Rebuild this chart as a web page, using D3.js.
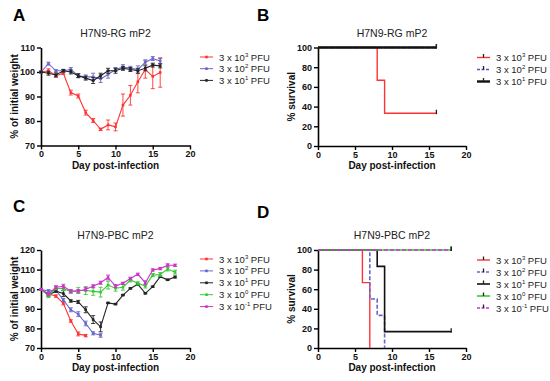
<!DOCTYPE html>
<html>
<head>
<meta charset="utf-8">
<script src="https://cdn.jsdelivr.net/npm/d3@7"></script>
<style>
  body { margin: 0; background: #fff; }
  text { font-family: "Liberation Sans", Arial, sans-serif; }
</style>
</head>
<body>
<div id="chart"></div>
<script>
// ---- data ----
let legendLabels = ['3', '2', '1', '0', '-1'];   // exponents of 3 x 10^n PFU
let seriesColors = ['#ff3333', '#6666cc', '#222222', '#33cc33', '#cc33cc'];

// Panel A: H7N9-RG mP2 weight (days 0-16)
let daysA = d3.range(0, 17);
let weightA_hi = [100, 100.5, 98.5, 99.5, 91.6, 90.2, 83.4, 80.2, 76.6, 78.4, 77.6, 86.5, 90.5, 96, 101, 98.2, 99.8];
let semA_hi = [0.3, 0.8, 0.6, 0.5, 1, 0.8, 1, 0.8, 0.5, 2, 1.6, 4.5, 4, 4.5, 3.5, 5, 6];
let weightA_mid = [100, 103.4, 100.5, 100.5, 101, 98.5, 98, 98, 97.2, 99, 101, 102, 101.5, 101, 104, 105.5, 104.5];
let semA_mid = [0.3, 0.6, 0.5, 0.6, 0.8, 0.8, 0.8, 1.5, 1.5, 1.5, 0.8, 1, 0.8, 1.5, 1, 0.8, 1];
let weightA_lo = [100, 99.5, 98.8, 100.5, 100, 98.5, 97.5, 96.5, 98.5, 100.5, 100.5, 101.5, 101, 100.5, 101.5, 102.8, 102.5];
let semA_lo = [0.3, 0.8, 0.8, 0.5, 0.8, 0.8, 0.8, 1.2, 1, 1, 1, 0.8, 0.8, 1, 1, 0.8, 0.8];

// Panel C: H7N9-PBC mP2 weight
let weightC_3 = [100, 97.5, 96.5, 92.8, 83.8, 77.2, 76.3];
let semC_3 = [0.3, 0.8, 0.6, 0.8, 0.6, 1, 0.6];
let weightC_2 = [100, 99, 99.5, 94.5, 89.5, 87.3, 82.5, 77.5, 76.5];
let semC_2 = [0.3, 0.8, 0.6, 0.8, 1, 1.2, 1.2, 0.8, 1];
let weightC_1 = [100, 97, 99, 97.8, 94, 93.5, 89.5, 84.5, 80.8, 93, 92.4, 97, 100.4, 102.5, 97.9, 101.3, 106.4, 104.8, 106.2];
let semC_1 = [0.3, 0.6, 0.6, 1.5, 0.6, 0.8, 1.5, 2, 2.5, 0.3, 0.3, 0.3, 0.3, 0.3, 0.3, 0.3, 0.3, 0.3, 0.5];
let weightC_0 = [100, 96.5, 100.5, 100.3, 98.7, 99.3, 99.3, 98.9, 98.5, 102.1, 100.5, 101, 104.7, 103, 101.6, 107.2, 107.5, 110.3, 108.7];
let semC_0 = [0.3, 0.8, 0.8, 1, 0.8, 1.5, 2, 2, 2.5, 2, 1.5, 1.5, 1, 0.8, 1, 0.8, 1, 1, 1];
let weightC_m1 = [100, 97.5, 101, 101.5, 99, 99, 100, 101.5, 103.3, 106, 101.6, 103, 105.5, 107.6, 103.3, 109.8, 110.5, 112.2, 112.2];
let semC_m1 = [0.3, 0.8, 0.8, 1, 0.8, 0.8, 0.8, 0.8, 0.8, 1.2, 0.8, 0.6, 0.6, 0.6, 1, 0.6, 0.6, 0.8, 0.6];

// survival step points [day, %]
let survB_3 = [[0, 100], [8, 100], [8, 66.7], [9, 66.7], [9, 33.3], [16, 33.3]];
let survB_2 = [[0, 100], [16, 100]];
let survB_1 = [[0, 100], [16, 100]];

let survD_3 = [[0, 100], [6, 100], [6, 66.7], [7, 66.7], [7, 0]];
let survD_2 = [[0, 100], [7, 100], [7, 50], [8, 50], [8, 33.3], [9, 33.3], [9, 0]];
let survD_1 = [[0, 100], [8, 100], [8, 83.3], [9, 83.3], [9, 16.7], [18, 16.7]];
let survD_0 = [[0, 100], [18, 100]];
let survD_m1 = [[0, 100], [18, 100]];

let xTicks = [0, 5, 10, 15, 20];

let svg = d3.select('#chart').append('svg')
    .attr('width', 550)
    .attr('height', 381);

// draws the frame (axes, title, labels) and returns scales
function drawFrame(p) {
    let g = svg.append('g');
    let x = d3.scaleLinear().domain([0, 20]).range([p.left, p.right]);
    let y = d3.scaleLinear().domain(p.yDomain).range([p.bottom, p.top]);

    g.append('g')
        .attr('transform', `translate(0,${p.bottom})`)
        .call(d3.axisBottom(x).tickValues(xTicks).tickSize(4).tickSizeOuter(0))
        .call(a => a.select('.domain').attr('stroke-width', 1.6))
        .call(a => a.selectAll('.tick line').attr('stroke-width', 1.4))
        .call(a => a.selectAll('text').attr('font-size', 9).attr('font-weight', 'bold').attr('dy', '0.55em').attr('fill', '#111'));

    g.append('g')
        .attr('transform', `translate(${p.left},0)`)
        .call(d3.axisLeft(y).tickValues(p.yTicks).tickSize(4).tickSizeOuter(0))
        .call(a => a.select('.domain').attr('stroke-width', 1.6))
        .call(a => a.selectAll('.tick line').attr('stroke-width', 1.4))
        .call(a => a.selectAll('text').attr('font-size', 9).attr('font-weight', 'bold').attr('dx', '0.1em').attr('fill', '#111'));

    g.append('text')
        .attr('x', (p.left + p.right) / 2)
        .attr('y', p.top - 11)
        .attr('text-anchor', 'middle')
        .attr('font-size', 10.5)
        .attr('fill', '#222')
        .text(p.title);

    g.append('text')
        .attr('x', (p.left + p.right) / 2)
        .attr('y', p.bottom + 23)
        .attr('text-anchor', 'middle')
        .attr('font-size', 10)
        .attr('font-weight', 'bold')
        .attr('fill', '#111')
        .text('Day post-infection');

    g.append('text')
        .attr('transform', `translate(${p.left - 23},${(p.top + p.bottom) / 2}) rotate(-90)`)
        .attr('text-anchor', 'middle')
        .attr('font-size', 10)
        .attr('font-weight', 'bold')
        .attr('fill', '#111')
        .text(p.yLabel);

    g.append('text')
        .attr('x', p.letterX)
        .attr('y', p.letterY)
        .attr('font-size', 17)
        .attr('font-weight', 'bold')
        .attr('fill', '#000')
        .text(p.letter);

    return {g, x, y};
}

function legendText(sel, exp) {
    sel.append('tspan').text('3 x 10');
    sel.append('tspan').attr('font-size', 6).attr('dy', -4).text(exp);
    sel.append('tspan').attr('dy', 4).text(' PFU');
}

function drawWeight(p, series) {
    let f = drawFrame(p);
    let line = d3.line().x(d => f.x(d[0])).y(d => f.y(d[1]));
    series.forEach((s, i) => {
        let pts = s.values.map((v, k) => [k, v, s.sem[k]]);
        let sg = f.g.append('g');
        sg.selectAll('line.err')
            .data(pts)
            .enter()
            .append('line')
            .attr('x1', d => f.x(d[0])).attr('x2', d => f.x(d[0]))
            .attr('y1', d => f.y(d[1] - d[2])).attr('y2', d => f.y(d[1] + d[2]))
            .attr('stroke', s.color).attr('stroke-width', 0.9);
        pts.forEach(d => {
            [d[1] - d[2], d[1] + d[2]].forEach(v => {
                sg.append('line')
                    .attr('x1', f.x(d[0]) - 2).attr('x2', f.x(d[0]) + 2)
                    .attr('y1', f.y(v)).attr('y2', f.y(v))
                    .attr('stroke', s.color).attr('stroke-width', 0.9);
            });
        });
        sg.append('path')
            .datum(pts)
            .attr('d', line)
            .attr('fill', 'none')
            .attr('stroke', s.color)
            .attr('stroke-width', 1.1);
        sg.selectAll('rect')
            .data(pts)
            .enter()
            .append('rect')
            .attr('x', d => f.x(d[0]) - 1.3).attr('y', d => f.y(d[1]) - 1.3)
            .attr('width', 2.6).attr('height', 2.6)
            .attr('fill', s.color);

        // legend
        let ly = p.legendY + i * p.legendStep;
        f.g.append('line')
            .attr('x1', p.legendX).attr('x2', p.legendX + 13)
            .attr('y1', ly).attr('y2', ly)
            .attr('stroke', s.color).attr('stroke-width', 1);
        f.g.append('rect')
            .attr('x', p.legendX + 5.2).attr('y', ly - 1.3)
            .attr('width', 2.6).attr('height', 2.6).attr('fill', s.color);
        f.g.append('text')
            .attr('x', p.legendX + 19).attr('y', ly + 3.5)
            .attr('font-size', 9.5).attr('fill', '#222')
            .call(legendText, s.exp);
    });
}

function drawSurvival(p, series) {
    let f = drawFrame(p);
    let line = d3.line().x(d => f.x(d[0])).y(d => f.y(d[1]));
    series.forEach((s, i) => {
        let sg = f.g.append('g');
        sg.append('path')
            .datum(s.values)
            .attr('d', line)
            .attr('fill', 'none')
            .attr('stroke', s.color)
            .attr('stroke-width', s.width)
            .attr('stroke-dasharray', s.dash || null);
        let last = s.values[s.values.length - 1];
        if (last[1] > 0) {
            sg.append('line')
                .attr('x1', f.x(last[0])).attr('x2', f.x(last[0]))
                .attr('y1', f.y(last[1]) - 3.5).attr('y2', f.y(last[1]) + 1)
                .attr('stroke', '#222').attr('stroke-width', 1.3);
        }
        // legend
        let ly = p.legendY + i * p.legendStep;
        f.g.append('line')
            .attr('x1', p.legendX).attr('x2', p.legendX + 13)
            .attr('y1', ly).attr('y2', ly)
            .attr('stroke', s.color).attr('stroke-width', s.width)
            .attr('stroke-dasharray', s.dash ? '3,1.5' : null);
        f.g.append('line')
            .attr('x1', p.legendX + 6.5).attr('x2', p.legendX + 6.5)
            .attr('y1', ly - 3.5).attr('y2', ly)
            .attr('stroke', '#222').attr('stroke-width', 1.3);
        f.g.append('text')
            .attr('x', p.legendX + 19).attr('y', ly + 3.5)
            .attr('font-size', 9.5).attr('fill', '#222')
            .call(legendText, s.exp);
    });
}

drawWeight({
    left: 41, right: 190, top: 47.5, bottom: 145.5,
    yDomain: [70, 110], yTicks: [70, 80, 90, 100, 110],
    title: 'H7N9-RG mP2', yLabel: '% of initial weight',
    letter: 'A', letterX: 13, letterY: 21,
    legendX: 200, legendY: 57, legendStep: 11.7
}, [
    {values: weightA_hi, sem: semA_hi, color: seriesColors[0], exp: legendLabels[0]},
    {values: weightA_mid, sem: semA_mid, color: seriesColors[1], exp: legendLabels[1]},
    {values: weightA_lo, sem: semA_lo, color: seriesColors[2], exp: legendLabels[2]}
]);

drawSurvival({
    left: 318, right: 466, top: 47.5, bottom: 146,
    yDomain: [0, 100], yTicks: [0, 20, 40, 60, 80, 100],
    title: 'H7N9-RG mP2', yLabel: '% survival',
    letter: 'B', letterX: 257, letterY: 21,
    legendX: 477, legendY: 57.5, legendStep: 12
}, [
    {values: survB_3, color: '#ff3333', width: 1.4, exp: legendLabels[0]},
    {values: survB_2, color: '#5555bb', width: 1.4, dash: '4,2', exp: legendLabels[1]},
    {values: survB_1, color: '#111111', width: 2.4, exp: legendLabels[2]}
]);

drawWeight({
    left: 41, right: 190, top: 250, bottom: 348,
    yDomain: [70, 120], yTicks: [70, 80, 90, 100, 110, 120],
    title: 'H7N9-PBC mP2', yLabel: '% of initial weight',
    letter: 'C', letterX: 13, letterY: 212,
    legendX: 200, legendY: 259, legendStep: 11.9
}, [
    {values: weightC_3, sem: semC_3, color: seriesColors[0], exp: legendLabels[0]},
    {values: weightC_2, sem: semC_2, color: seriesColors[1], exp: legendLabels[1]},
    {values: weightC_1, sem: semC_1, color: seriesColors[2], exp: legendLabels[2]},
    {values: weightC_0, sem: semC_0, color: seriesColors[3], exp: legendLabels[3]},
    {values: weightC_m1, sem: semC_m1, color: seriesColors[4], exp: legendLabels[4]}
]);

drawSurvival({
    left: 318, right: 466, top: 250, bottom: 348,
    yDomain: [0, 100], yTicks: [0, 20, 40, 60, 80, 100],
    title: 'H7N9-PBC mP2', yLabel: '% survival',
    letter: 'D', letterX: 257, letterY: 218,
    legendX: 477, legendY: 260, legendStep: 12
}, [
    {values: survD_3, color: '#ff3333', width: 1.4, exp: legendLabels[0]},
    {values: survD_2, color: '#6666cc', width: 1.6, dash: '4,2', exp: legendLabels[1]},
    {values: survD_1, color: '#111111', width: 1.6, exp: legendLabels[2]},
    {values: survD_0, color: '#33cc33', width: 1.6, exp: legendLabels[3]},
    {values: survD_m1, color: '#cc33cc', width: 1.6, dash: '4,2', exp: legendLabels[4]}
]);
</script>
</body>
</html>
